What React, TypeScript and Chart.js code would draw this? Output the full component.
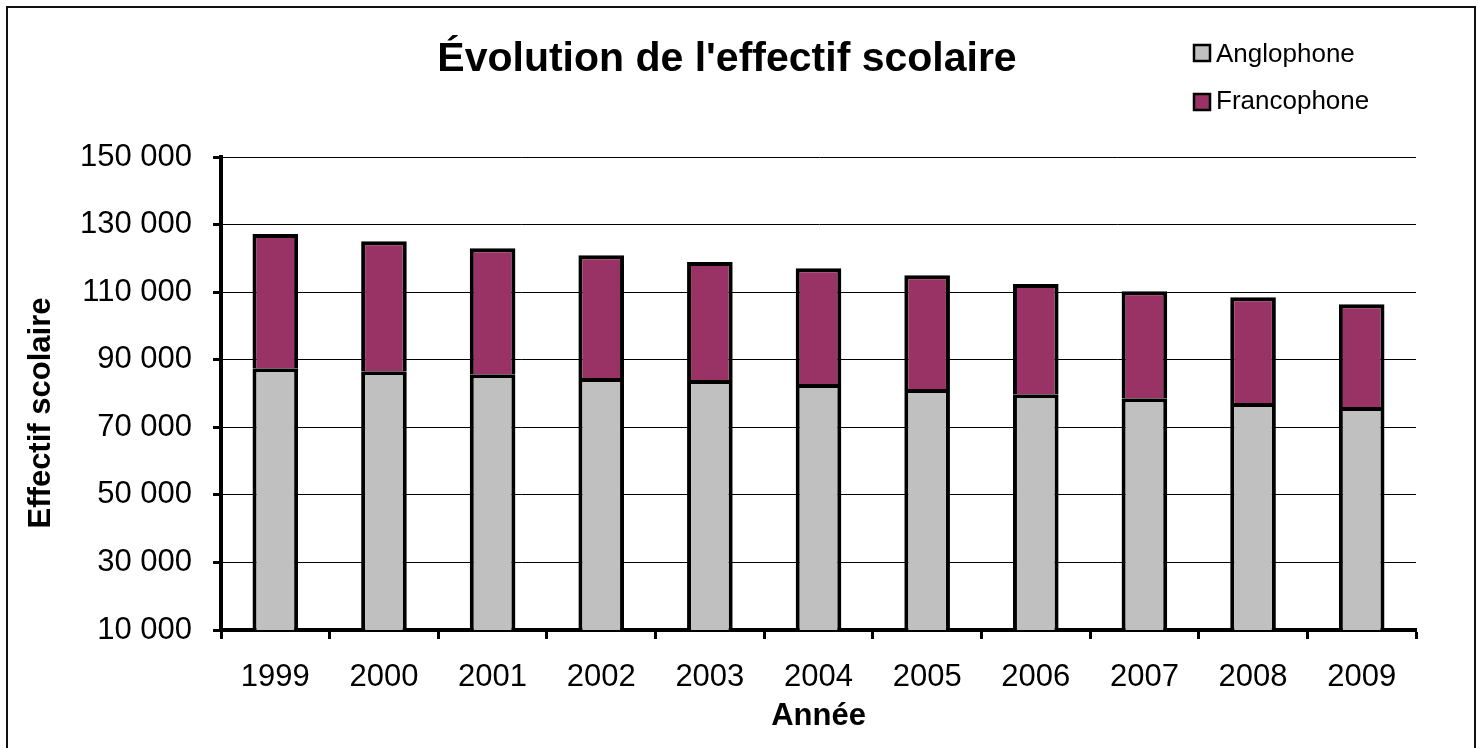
import { useEffect, useRef } from "react";
import { Chart, registerables } from "chart.js";

Chart.register(...registerables);

const years = ["1999", "2000", "2001", "2002", "2003", "2004", "2005", "2006", "2007", "2008", "2009"];
const anglophone = [87500, 86600, 85700, 84600, 84000, 82800, 81300, 79800, 78600, 77200, 76000];
const francophone = [39700, 38500, 37300, 36300, 34900, 34300, 33700, 32600, 31700, 31300, 30400];
const seriesNames = ["Anglophone", "Francophone"];
const seriesColors = ["#C0C0C0", "#993366"];
const chartTitle = "Évolution de l'effectif scolaire";
const yTitle = "Effectif scolaire";
const xTitle = "Année";
const yMin = 10000;
const yMax = 150000;
const yStep = 20000;

const FONT = "'Liberation Sans', Arial, Helvetica, sans-serif";
const W = 1466;
const H = 740;

const overlayPlugin = {
  id: "overlay",
  afterDraw(chart: any) {
    const ctx = chart.ctx as CanvasRenderingContext2D;
    ctx.save();
    ctx.fillStyle = "#000";
    // title
    ctx.font = `bold 41px ${FONT}`;
    ctx.textAlign = "center";
    ctx.textBaseline = "alphabetic";
    ctx.fillText(chartTitle, 719, 63);
    // y axis title
    ctx.save();
    ctx.translate(33, 405);
    ctx.rotate(-Math.PI / 2);
    ctx.font = `bold 31px ${FONT}`;
    ctx.textBaseline = "middle";
    ctx.fillText(yTitle, 0, 0);
    ctx.restore();
    // legend
    const ds = chart.data.datasets;
    const rows = [
      { box: 37, base: 54 },
      { box: 86, base: 101 },
    ];
    ctx.font = `26px ${FONT}`;
    ctx.textAlign = "left";
    ds.forEach((d: any, i: number) => {
      const r = rows[i];
      ctx.fillStyle = d.backgroundColor;
      ctx.fillRect(1186, r.box, 16, 16);
      ctx.strokeStyle = "#000";
      ctx.lineWidth = 2.5;
      ctx.strokeRect(1186, r.box, 16, 16);
      ctx.fillStyle = "#000";
      ctx.fillText(d.label, 1208, r.base);
    });
    ctx.restore();
  },
};

export default function App() {
  const ref = useRef<HTMLCanvasElement>(null);

  useEffect(() => {
    document.documentElement.style.overflow = "hidden";
    const canvas = ref.current;
    if (!canvas) return;
    const chart = new Chart(canvas, {
      type: "bar",
      data: {
        labels: years,
        datasets: [
          {
            label: seriesNames[0],
            data: anglophone,
            backgroundColor: seriesColors[0],
            borderColor: "#000",
            borderWidth: 4,
            barPercentage: 0.42,
            categoryPercentage: 1,
          },
          {
            label: seriesNames[1],
            data: francophone,
            backgroundColor: seriesColors[1],
            borderColor: "#000",
            borderWidth: 4,
            barPercentage: 0.42,
            categoryPercentage: 1,
          },
        ],
      },
      options: {
        responsive: false,
        animation: false,
        devicePixelRatio: 1,
        layout: { padding: { top: 149, right: 58, left: 0, bottom: 0 } },
        plugins: {
          legend: { display: false },
          title: { display: false },
          tooltip: { enabled: false },
        },
        scales: {
          x: {
            stacked: true,
            offset: true,
            border: { display: true, color: "#000", width: 4 },
            grid: {
              offset: true,
              drawOnChartArea: false,
              drawTicks: true,
              tickLength: 9,
              tickWidth: 3,
              tickColor: "#000",
            },
            ticks: {
              color: "#000",
              font: { family: FONT, size: 31 },
              padding: 20,
              maxRotation: 0,
              autoSkip: false,
            },
            title: {
              display: true,
              text: xTitle,
              color: "#000",
              font: { family: FONT, size: 31, weight: "bold" },
              padding: { top: 0, bottom: 13 },
            },
            afterFit: (s: any) => {
              s.height = 118;
            },
          },
          y: {
            stacked: true,
            min: yMin,
            max: yMax,
            border: { display: true, color: "#000", width: 4 },
            grid: {
              color: "#000",
              lineWidth: 1,
              drawTicks: true,
              tickLength: 8,
              tickWidth: 3,
              tickColor: "#000",
            },
            ticks: {
              stepSize: yStep,
              color: "#000",
              font: { family: FONT, size: 31 },
              padding: 21,
              callback: (v: any) => {
                const n = Number(v);
                return `${Math.floor(n / 1000)} ${String(n % 1000).padStart(3, "0")}`;
              },
            },
            afterFit: (s: any) => {
              s.width = 213;
            },
          },
        },
      },
      plugins: [overlayPlugin],
    });
    return () => chart.destroy();
  }, []);

  return (
    <div style={{ position: "relative", width: W, height: H }}>
      <canvas ref={ref} width={W} height={H} style={{ display: "block", width: W, height: H }} />
      <div
        style={{
          position: "fixed",
          left: 6,
          top: 6,
          width: 1470,
          height: 800,
          border: "2px solid #111",
          boxSizing: "border-box",
          pointerEvents: "none",
        }}
      />
    </div>
  );
}
